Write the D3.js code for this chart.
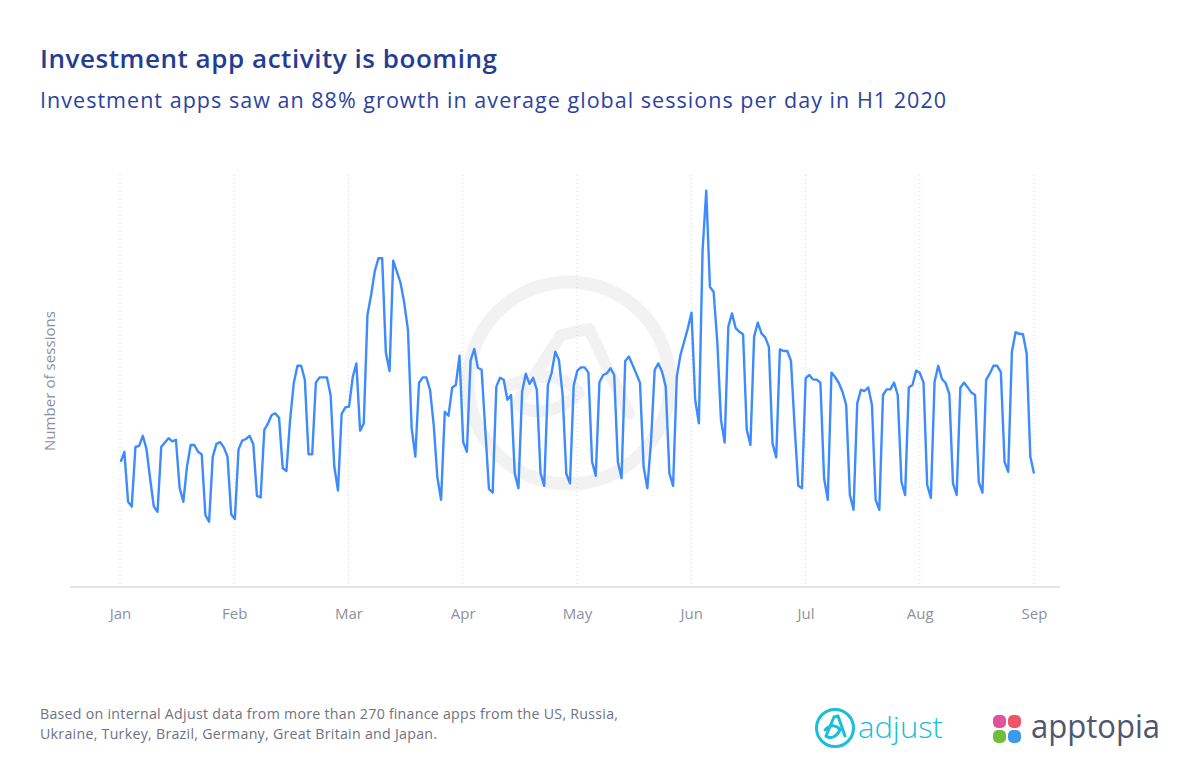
<!DOCTYPE html>
<html>
<head>
<meta charset="utf-8">
<script src="https://cdn.jsdelivr.net/npm/d3@7"></script>
<style>
  body { margin: 0; background: #fff; }
  svg { display: block; }
  text { font-family: "Open Sans", sans-serif; }
</style>
</head>
<body>
<div id="chart"></div>
<script>
// daily sessions (index, no unit shown on the chart), first value is Thu 2 Jan 2020
const firstDay = "2020-01-02";
const sessions = [
  31.3, 33.8, 21.3, 20.1,
  35, 35.3, 37.8, 34.5, 27, 20.1, 18.8,
  35, 36.1, 37.2, 36.4, 36.8, 24.8, 21.3,
  30.1, 35.5, 35.5, 33.8, 33.2, 18, 16.3,
  32.6, 35.8, 36.2, 34.9, 32.6, 18.2, 17,
  34.4, 36.6, 37, 37.8, 35.7, 22.8, 22.4,
  39.3, 40.9, 43, 43.4, 42.3, 29.7, 29,
  41.8, 51, 55.3, 55.3, 51.8, 33.2, 33.2,
  51.1, 52.4, 52.4, 52.4, 48, 30.2, 24.1,
  43.3, 44.9, 45.1, 52.4, 55.9, 39.1, 40.9,
  68, 73, 79, 82.2, 82.2, 58.6, 54,
  81.6, 78.8, 76, 71, 64.3, 39.8, 32.6,
  51, 52.4, 52.4, 49.3, 40.5, 27.3, 21.8,
  43.8, 42.8, 49.8, 50.5, 57.8, 36.3, 33.8,
  56.6, 59.5, 54.8, 54.3, 39.3, 24.5, 23.6,
  50.1, 52.3, 51.8, 46.8, 48, 28.4, 24.7,
  48.8, 53.3, 50.8, 52.3, 49.3, 28.5, 25.3,
  50.5, 53.5, 58.8, 56.8, 48, 28.3, 25.9,
  50.3, 54.1, 54.9, 54.9, 53.6, 31.3, 27.8,
  51.2, 53, 53.4, 54.7, 53, 31.3, 27.2,
  56.5, 57.6, 55.5, 53.3, 51.1, 30.1, 24.7,
  36.3, 54.3, 55.9, 53.8, 50.1, 28.4, 25.3,
  52.6, 58, 61.3, 64.7, 68.6, 46.8, 40.9,
  84, 99.1, 75, 73.8, 61.3, 41.8, 36.1,
  65.1, 68.4, 64.7, 63.8, 63.2, 39.3, 35.5,
  62.6, 66.1, 63.4, 62.4, 60.1, 35.9, 32.4,
  59.4, 59, 59, 56.6, 40.1, 25.3, 24.7,
  52.2, 53, 51.9, 51.8, 51.1, 27.2, 21.8,
  53.6, 52.5, 51, 48.8, 45.5, 23, 19.3,
  45.9, 49.3, 49, 49.9, 45.5, 21.8, 19.3,
  48, 49.4, 49.4, 51.1, 48, 26.3, 23,
  49.9, 50.5, 54.1, 53.5, 51.1, 25.5, 22.3,
  51.3, 55.3, 52, 51, 48.3, 25.9, 23,
  49.8, 51.1, 49.9, 48.6, 48, 26.3, 23.6,
  51.8, 53.4, 55.3, 55.3, 53.7, 31.3, 28.8,
  58.8, 63.7, 63.3, 63.2, 58.4, 32.6, 28.4
];
const months = ["Jan", "Feb", "Mar", "Apr", "May", "Jun", "Jul", "Aug", "Sep"];

const title = "Investment app activity is booming";
const subtitle = "Investment apps saw an 88% growth in average global sessions per day in H1 2020";
const yLabel = "Number of sessions";
const notes = [
  "Based on internal Adjust data from more than 270 finance apps from the US, Russia,",
  "Ukraine, Turkey, Brazil, Germany, Great Britain and Japan."
];

const width = 1200, height = 778;
const blue = "#243c92", grey = "#8d909c";

const svg = d3.select("#chart").append("svg")
  .attr("width", width)
  .attr("height", height);

const start = d3.timeParse("%Y-%m-%d")(firstDay);
const data = sessions.map((v, i) => ({ date: d3.timeDay.offset(start, i), value: v }));

const x = d3.scaleTime()
  .domain(d3.extent(data, d => d.date))
  .range([120.7, 1034]);
const y = d3.scaleLinear()
  .domain([0, 100])
  .range([587, 187]);
const xMonth = d3.scalePoint()
  .domain(months)
  .range([120, 1034]);

// titles
svg.append("text")
  .attr("x", 40).attr("y", 68)
  .attr("fill", blue)
  .attr("font-size", 26).attr("font-weight", 600)
  .attr("textLength", 457).attr("lengthAdjust", "spacing")
  .text(title);
svg.append("text")
  .attr("x", 40).attr("y", 108)
  .attr("fill", "#2b43a0")
  .attr("font-size", 21.5)
  .attr("textLength", 906).attr("lengthAdjust", "spacing")
  .text(subtitle);

// watermark
const wm = svg.append("g").attr("transform", "translate(569,383)")
  .attr("fill", "none").attr("stroke", "#f2f2f2").attr("stroke-linecap", "round").attr("stroke-linejoin", "round");
wm.append("circle").attr("r", 101).attr("stroke-width", 13);
wm.append("path")
  .attr("stroke-width", 12)
  .attr("d", "M-58,2 C-30,-10 -5,-10 10,10 M-52,20 L-8,-48 L20,-54 L60,30 M-52,20 C-30,40 0,20 10,10");

// grid lines
svg.append("g")
  .selectAll("line")
  .data(months)
  .join("line")
  .attr("x1", d => xMonth(d)).attr("x2", d => xMonth(d))
  .attr("y1", 175).attr("y2", 587)
  .attr("stroke", "#d9d9d9")
  .attr("stroke-width", 1)
  .attr("stroke-dasharray", "1,3");

// x axis
const xAxis = svg.append("g")
  .attr("transform", "translate(0,587)")
  .call(d3.axisBottom(xMonth).tickSize(0).tickPadding(21));
xAxis.select(".domain").remove();
xAxis.selectAll("text")
  .attr("fill", grey)
  .attr("font-size", 15)
  .attr("font-family", "Open Sans, sans-serif");
svg.append("line")
  .attr("x1", 70).attr("x2", 1060)
  .attr("y1", 587).attr("y2", 587)
  .attr("stroke", "#dcdcdc").attr("stroke-width", 1.5);

// y label
svg.append("text")
  .attr("transform", "translate(55,381) rotate(-90)")
  .attr("text-anchor", "middle")
  .attr("fill", grey)
  .attr("font-size", 15)
  .attr("textLength", 140).attr("lengthAdjust", "spacing")
  .text(yLabel);

// line
const line = d3.line()
  .x(d => x(d.date))
  .y(d => y(d.value));
svg.append("path")
  .datum(data)
  .attr("fill", "none")
  .attr("stroke", "#3d8bfd")
  .attr("stroke-width", 2.4)
  .attr("stroke-linejoin", "round")
  .attr("d", line);

// footnote
const noteLen = [578, 397];
svg.append("g")
  .selectAll("text")
  .data(notes)
  .join("text")
  .attr("x", 40)
  .attr("y", (d, i) => 719 + i * 20)
  .attr("fill", "#6e7282")
  .attr("font-size", 14.2)
  .attr("textLength", (d, i) => noteLen[i]).attr("lengthAdjust", "spacing")
  .text(d => d);

// adjust logo
const adj = svg.append("g").attr("transform", "translate(835,728)");
adj.append("circle").attr("r", 18.5).attr("fill", "none").attr("stroke", "#17c0d8").attr("stroke-width", 3);
adj.append("path")
  .attr("fill", "none").attr("stroke", "#17c0d8").attr("stroke-width", 3)
  .attr("stroke-linecap", "round").attr("stroke-linejoin", "round")
  .attr("d", "M-10,2 C-4,-4 2,-3 5,2 M-9,8 L-1,-11 L3,-12 L10,8 M-9,8 C-4,12 2,8 5,2");
svg.append("text")
  .attr("x", 858).attr("y", 738)
  .attr("fill", "#17c0d8")
  .attr("font-size", 30).attr("font-weight", 300)
  .attr("textLength", 85).attr("lengthAdjust", "spacingAndGlyphs")
  .text("adjust");

// apptopia logo
const ap = svg.append("g").attr("transform", "translate(1007,729)");
const petals = [
  { dx: -14, dy: -14, c: "#e0529c" },
  { dx: 1, dy: -14, c: "#ee5566" },
  { dx: -14, dy: 1, c: "#74bd3a" },
  { dx: 1, dy: 1, c: "#3a9be8" }
];
ap.selectAll("rect")
  .data(petals)
  .join("rect")
  .attr("x", d => d.dx).attr("y", d => d.dy)
  .attr("width", 13).attr("height", 13)
  .attr("rx", 5)
  .attr("fill", d => d.c);
svg.append("text")
  .attr("x", 1031).attr("y", 738)
  .attr("fill", "#4e5670")
  .attr("font-size", 32)
  .attr("textLength", 129).attr("lengthAdjust", "spacingAndGlyphs")
  .text("apptopia");
</script>
</body>
</html>
